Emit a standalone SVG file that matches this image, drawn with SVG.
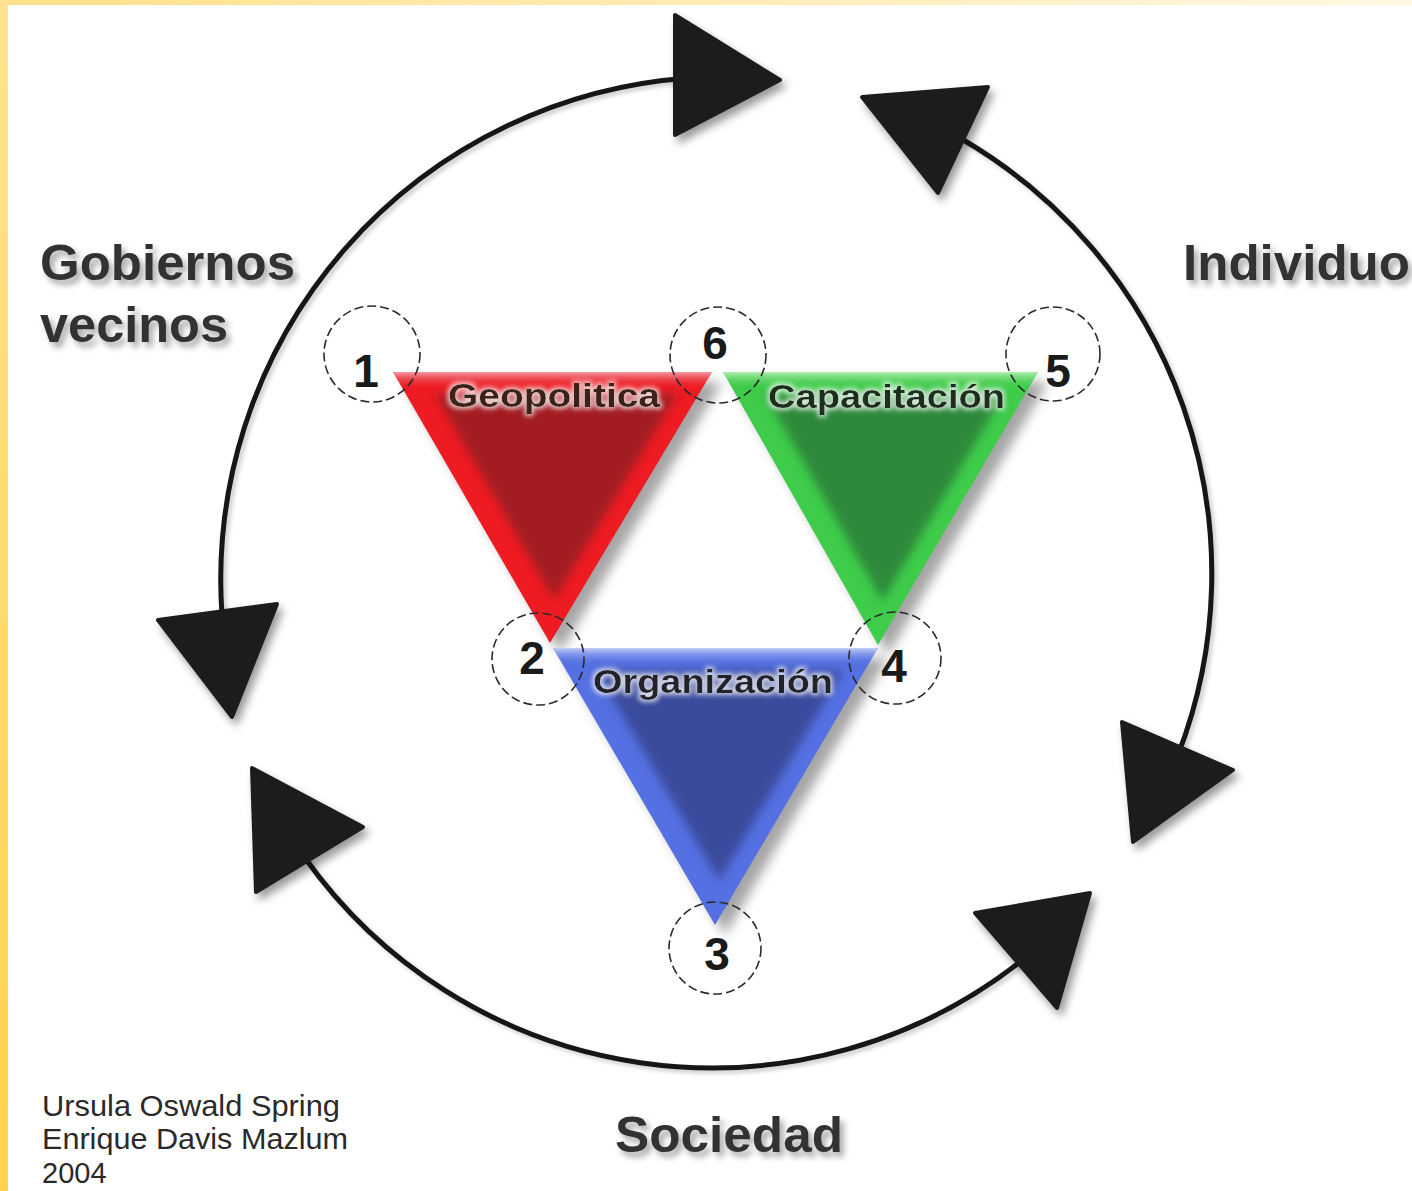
<svg xmlns="http://www.w3.org/2000/svg" width="1412" height="1191" viewBox="0 0 1412 1191">
  <defs>
    <style>
      .big { font-family: "Liberation Sans", Arial, sans-serif; font-weight: bold; font-size: 50px; fill: #333; }
      .tri-label { font-family: "Liberation Sans", Arial, sans-serif; font-weight: bold; font-size: 34px; }
      .num { font-family: "Liberation Sans", Arial, sans-serif; font-weight: bold; font-size: 46px; fill: #1a1a1a; text-anchor: middle; }
      .author { font-family: "Liberation Sans", Arial, sans-serif; font-size: 29px; fill: #2a2a2a; }
      .dash { fill: none; stroke: #2a2a2a; stroke-width: 1.6; stroke-dasharray: 9 4; }
      .arc { fill: none; stroke: #151515; stroke-width: 5; stroke-linecap: round; }
      .head { fill: #1e1e1e; stroke: #1e1e1e; stroke-width: 4; stroke-linejoin: round; }
    </style>
    <linearGradient id="leftBand" x1="0" y1="0" x2="0" y2="1">
      <stop offset="0" stop-color="#FFE38E"/>
      <stop offset="1" stop-color="#FFD24C"/>
    </linearGradient>
    <linearGradient id="topBand" x1="0" y1="0" x2="1" y2="0">
      <stop offset="0" stop-color="#FFE18A"/>
      <stop offset="1" stop-color="#FFF7E0"/>
    </linearGradient>
    <filter id="shadowText" x="-10%" y="-30%" width="130%" height="170%">
      <feDropShadow dx="4" dy="5" stdDeviation="3" flood-color="#000" flood-opacity="0.35"/>
    </filter>
    <filter id="shadowLine" x="-10%" y="-10%" width="120%" height="120%">
      <feDropShadow dx="3" dy="3" stdDeviation="2" flood-color="#000" flood-opacity="0.2"/>
    </filter>
    <filter id="shadowHead" x="-30%" y="-30%" width="160%" height="160%">
      <feDropShadow dx="4" dy="6" stdDeviation="4" flood-color="#000" flood-opacity="0.4"/>
    </filter>
    <filter id="blurShadow" x="-20%" y="-20%" width="140%" height="140%">
      <feGaussianBlur stdDeviation="6"/>
    </filter>
    <filter id="bevel" x="-20%" y="-20%" width="140%" height="140%">
      <feGaussianBlur stdDeviation="6"/>
    </filter>
    <filter id="halo" x="-10%" y="-40%" width="120%" height="180%">
      <feMorphology in="SourceAlpha" operator="dilate" radius="2" result="d"/>
      <feGaussianBlur in="d" stdDeviation="2.5" result="b"/>
      <feFlood flood-color="#ffffff" flood-opacity="0.75"/>
      <feComposite in2="b" operator="in" result="h"/>
      <feMerge><feMergeNode in="h"/><feMergeNode in="SourceGraphic"/></feMerge>
    </filter>
    <clipPath id="clipRed"><polygon points="393,372 712,372 550,643"/></clipPath>
    <clipPath id="clipGreen"><polygon points="723,372 1038,372 878,645"/></clipPath>
    <clipPath id="clipBlue"><polygon points="553,648 878,648 715,925"/></clipPath>
    <linearGradient id="topRed" x1="0" y1="0" x2="0" y2="1">
      <stop offset="0" stop-color="#F4A0A8" stop-opacity="0.95"/>
      <stop offset="1" stop-color="#E83040" stop-opacity="0"/>
    </linearGradient>
    <linearGradient id="topGreen" x1="0" y1="0" x2="0" y2="1">
      <stop offset="0" stop-color="#B8F0B8" stop-opacity="0.95"/>
      <stop offset="1" stop-color="#50D050" stop-opacity="0"/>
    </linearGradient>
    <linearGradient id="topBlue" x1="0" y1="0" x2="0" y2="1">
      <stop offset="0" stop-color="#C8D2F8" stop-opacity="0.95"/>
      <stop offset="1" stop-color="#7088E8" stop-opacity="0"/>
    </linearGradient>
  </defs>

  <rect x="0" y="0" width="1412" height="1191" fill="#ffffff"/>
  <rect x="0" y="0" width="1412" height="5" fill="url(#topBand)"/>
  <rect x="0" y="0" width="8" height="1191" fill="url(#leftBand)"/>

  <g id="connectors">
    <g filter="url(#shadowLine)">
      <path class="arc" d="M 690,78 A 503 503 0 0 0 222,615"/>
      <path class="arc" d="M 960,138 A 503 503 0 0 1 1178,755"/>
      <path class="arc" d="M 305,858 A 500 500 0 0 0 1020,962"/>
    </g>
    <g filter="url(#shadowHead)">
      <polygon class="head" points="675,15 675,135 780,80"/>
      <polygon class="head" points="862,97 988,87 938,193"/>
      <polygon class="head" points="1122,722 1133,842 1233,770"/>
      <polygon class="head" points="975,913 1090,893 1057,1008"/>
      <polygon class="head" points="252,768 363,827 256,892"/>
      <polygon class="head" points="158,620 277,604 232,717"/>
    </g>
  </g>

  <g id="tri-geopolitica">
    <polygon points="403,382 722,382 560,653" fill="#000" opacity="0.35" filter="url(#blurShadow)"/>
    <g clip-path="url(#clipRed)">
      <rect x="380" y="360" width="350" height="300" fill="#EE1C22"/>
      <polygon points="393,372 712,372 550,643" fill="#A21C22" filter="url(#bevel)" transform="translate(555,463) scale(0.76) translate(-551,-463)"/>
      <rect x="380" y="372" width="350" height="16" fill="url(#topRed)"/>
    </g>
    <text class="tri-label" x="448" y="407" textLength="212" lengthAdjust="spacingAndGlyphs" fill="#3a2418" filter="url(#halo)">Geopolitica</text>
  </g>

  <g id="tri-capacitacion">
    <polygon points="733,382 1048,382 888,655" fill="#000" opacity="0.35" filter="url(#blurShadow)"/>
    <g clip-path="url(#clipGreen)">
      <rect x="710" y="360" width="345" height="300" fill="#3ECC4A"/>
      <polygon points="723,372 1038,372 878,645" fill="#2E8A3A" filter="url(#bevel)" transform="translate(884,463) scale(0.76) translate(-880,-463)"/>
      <rect x="710" y="372" width="345" height="16" fill="url(#topGreen)"/>
    </g>
    <text class="tri-label" x="768" y="408" textLength="237" lengthAdjust="spacingAndGlyphs" fill="#1c2e1c" filter="url(#halo)">Capacitación</text>
  </g>

  <g id="tri-organizacion">
    <polygon points="563,658 888,658 725,935" fill="#000" opacity="0.35" filter="url(#blurShadow)"/>
    <g clip-path="url(#clipBlue)">
      <rect x="540" y="640" width="350" height="300" fill="#5470E2"/>
      <polygon points="553,648 878,648 715,925" fill="#3A4C9C" filter="url(#bevel)" transform="translate(720,741) scale(0.76) translate(-716,-741)"/>
      <rect x="540" y="648" width="350" height="16" fill="url(#topBlue)"/>
    </g>
    <text class="tri-label" x="593" y="693" textLength="240" lengthAdjust="spacingAndGlyphs" fill="#22222c" filter="url(#halo)">Organización</text>
  </g>

  <g id="vertex-1"><circle class="dash" cx="372" cy="354" r="48"/><text class="num" x="366" y="387">1</text></g>
  <g id="vertex-6"><circle class="dash" cx="718" cy="355" r="48"/><text class="num" x="715" y="359">6</text></g>
  <g id="vertex-5"><circle class="dash" cx="1053" cy="354" r="47"/><text class="num" x="1058" y="387">5</text></g>
  <g id="vertex-2"><circle class="dash" cx="538" cy="659" r="46"/><text class="num" x="532" y="674">2</text></g>
  <g id="vertex-4"><circle class="dash" cx="895" cy="658" r="46"/><text class="num" x="894" y="682">4</text></g>
  <g id="vertex-3"><circle class="dash" cx="715" cy="948" r="46"/><text class="num" x="717" y="970">3</text></g>

  <g id="label-gobiernos" filter="url(#shadowText)">
    <text class="big" x="40" y="280" textLength="255" lengthAdjust="spacingAndGlyphs">Gobiernos</text>
    <text class="big" x="40" y="342" textLength="188" lengthAdjust="spacingAndGlyphs">vecinos</text>
  </g>
  <g id="label-individuo" filter="url(#shadowText)">
    <text class="big" x="1183" y="280" textLength="227" lengthAdjust="spacingAndGlyphs">Individuo</text>
  </g>
  <g id="label-sociedad" filter="url(#shadowText)">
    <text class="big" x="615" y="1152" textLength="228" lengthAdjust="spacingAndGlyphs">Sociedad</text>
  </g>

  <g id="credits">
    <text class="author" x="42" y="1116" textLength="298" lengthAdjust="spacingAndGlyphs">Ursula Oswald Spring</text>
    <text class="author" x="42" y="1149" textLength="306" lengthAdjust="spacingAndGlyphs">Enrique Davis Mazlum</text>
    <text class="author" x="42" y="1183">2004</text>
  </g>
</svg>
